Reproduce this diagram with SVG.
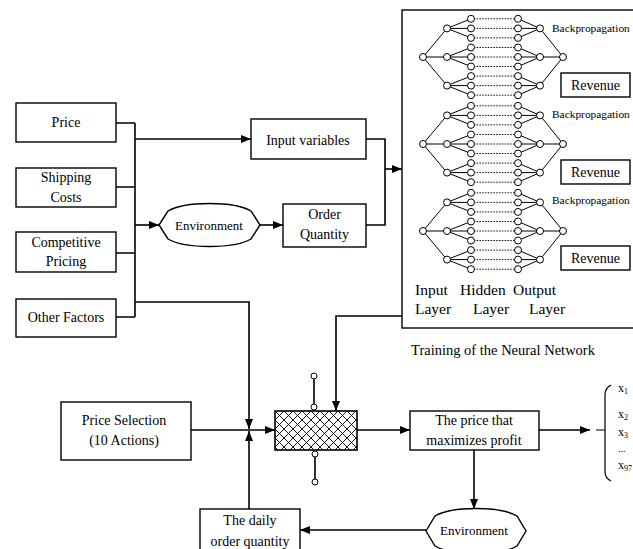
<svg xmlns="http://www.w3.org/2000/svg" xmlns:xlink="http://www.w3.org/1999/xlink" width="633" height="549" viewBox="0 0 633 549">
<style>
  .box{fill:#fff;stroke:#000;stroke-width:1.4}
  .t{font-family:"Liberation Serif","Times New Roman",serif;font-size:14px;fill:#000;text-anchor:middle}
  .tl{font-family:"Liberation Serif","Times New Roman",serif;fill:#000}
  .c{fill:none;stroke:#000;stroke-width:1.6}
  .nn{fill:none;stroke:#000;stroke-width:1}
  .dot{fill:none;stroke:#000;stroke-width:0.9;stroke-dasharray:1.6,1.2}
  .node{fill:#fff;stroke:#000;stroke-width:1}
</style>
<defs>
  <marker id="arr" viewBox="0 0 10 8" refX="10" refY="4" markerWidth="10" markerHeight="8" orient="auto" markerUnits="userSpaceOnUse">
    <path d="M0,0 L10,4 L0,8 Z" fill="#000"/>
  </marker>
  <pattern id="hatch" width="9" height="9" patternUnits="userSpaceOnUse" x="275" y="411">
    <path d="M0,0 L9,9 M9,0 L0,9" stroke="#000" stroke-width="0.9"/>
  </pattern>
  <g id="net">
    <path class="dot" d="M471,-38.2 H518 M471,-28.6 H518 M471,-19.1 H518 M471,-9.5 H518 M471,0 H518 M471,9.5 H518 M471,19.1 H518 M471,28.6 H518 M471,38.2 H518"/>
    <path class="nn" d="M423,0 L447,-28.6 M423,0 L447,0 M423,0 L447,28.6 M447,-28.6 L471,-38.2 M447,-28.6 L471,-28.6 M447,-28.6 L471,-19.1 M447,0 L471,-9.5 M447,0 L471,0 M447,0 L471,9.5 M447,28.6 L471,19.1 M447,28.6 L471,28.6 M447,28.6 L471,38.2 M518,-38.2 L540,-28.6 M518,-28.6 L540,-28.6 M518,-19.1 L540,-28.6 M518,-9.5 L540,0 M518,0 L540,0 M518,9.5 L540,0 M518,19.1 L540,28.6 M518,28.6 L540,28.6 M518,38.2 L540,28.6 M540,-28.6 L563,0 M540,0 L563,0 M540,28.6 L563,0"/>
    <circle class="node" cx="423" cy="0" r="3.5"/>
    <circle class="node" cx="447" cy="-28.6" r="3.5"/>
    <circle class="node" cx="447" cy="0" r="3.5"/>
    <circle class="node" cx="447" cy="28.6" r="3.5"/>
    <circle class="node" cx="471" cy="-38.2" r="3.5"/>
    <circle class="node" cx="471" cy="-28.6" r="3.5"/>
    <circle class="node" cx="471" cy="-19.1" r="3.5"/>
    <circle class="node" cx="471" cy="-9.5" r="3.5"/>
    <circle class="node" cx="471" cy="0" r="3.5"/>
    <circle class="node" cx="471" cy="9.5" r="3.5"/>
    <circle class="node" cx="471" cy="19.1" r="3.5"/>
    <circle class="node" cx="471" cy="28.6" r="3.5"/>
    <circle class="node" cx="471" cy="38.2" r="3.5"/>
    <circle class="node" cx="518" cy="-38.2" r="3.5"/>
    <circle class="node" cx="518" cy="-28.6" r="3.5"/>
    <circle class="node" cx="518" cy="-19.1" r="3.5"/>
    <circle class="node" cx="518" cy="-9.5" r="3.5"/>
    <circle class="node" cx="518" cy="0" r="3.5"/>
    <circle class="node" cx="518" cy="9.5" r="3.5"/>
    <circle class="node" cx="518" cy="19.1" r="3.5"/>
    <circle class="node" cx="518" cy="28.6" r="3.5"/>
    <circle class="node" cx="518" cy="38.2" r="3.5"/>
    <circle class="node" cx="540" cy="-28.6" r="3.5"/>
    <circle class="node" cx="540" cy="0" r="3.5"/>
    <circle class="node" cx="540" cy="28.6" r="3.5"/>
    <circle class="node" cx="563" cy="0" r="3.5"/>
  </g>
</defs>
<rect width="633" height="549" fill="#fff"/>

<g id="connectors">
  <path class="c" d="M116,123 H135 M116,187 H135 M116,253 H135 M116,317 H135 M135,123 V317"/>
  <path class="c" d="M135,139 H251" marker-end="url(#arr)"/>
  <path class="c" d="M135,225 H159" marker-end="url(#arr)"/>
  <path class="c" d="M260,225 H283" marker-end="url(#arr)"/>
  <path class="c" d="M366,139 H385 V225 H366"/>
  <path class="c" d="M385,169 H402" marker-end="url(#arr)"/>
  <path class="c" d="M135,302 H249 V429" marker-end="url(#arr)"/>
  <path class="c" d="M191,430 H275" marker-end="url(#arr)"/>
  <path class="c" d="M249,509 V431" marker-end="url(#arr)"/>
  <path class="c" d="M402,316 H336 V411" marker-end="url(#arr)"/>
  <path class="c" d="M357,430 H410" marker-end="url(#arr)"/>
  <path class="c" d="M539,430 H590" marker-end="url(#arr)"/>
  <path class="c" d="M474,450 V509" marker-end="url(#arr)"/>
  <path class="c" d="M426,530 H300" marker-end="url(#arr)"/>
  <path class="c" d="M597,73 C597,60 590,50 571,44" marker-end="url(#arr)"/>
  <path class="c" d="M597,160 C597,147 590,137 571,131" marker-end="url(#arr)"/>
  <path class="c" d="M597,246 C597,233 590,223 571,217" marker-end="url(#arr)"/>
</g>

<g id="price"><rect class="box" x="16" y="103" width="100" height="39"/><text class="t" x="66" y="127">Price</text></g>
<g id="shipping"><rect class="box" x="16" y="168" width="100" height="39"/><text class="t" x="66" y="182">Shipping</text><text class="t" x="66" y="202">Costs</text></g>
<g id="competitive"><rect class="box" x="16" y="232" width="100" height="40"/><text class="t" x="66" y="247">Competitive</text><text class="t" x="66" y="266">Pricing</text></g>
<g id="other"><rect class="box" x="16" y="299" width="100" height="38"/><text class="t" x="66" y="322">Other Factors</text></g>

<g id="input-variables"><rect class="box" x="251" y="119" width="115" height="40"/><text class="t" x="308" y="145">Input variables</text></g>
<g id="environment1"><path class="box" d="M159,225 L168,211 C185,201 234,201 251,211 L260,225 L251,239 C234,249 185,249 168,239 Z"/><text class="t" x="209" y="230" style="font-size:13px">Environment</text></g>
<g id="order-quantity"><rect class="box" x="283" y="204" width="83" height="43"/><text class="t" x="324.5" y="219">Order</text><text class="t" x="324.5" y="239">Quantity</text></g>

<g id="neural-network">
  <rect class="box" x="402" y="10" width="240" height="318"/>
  <use xlink:href="#net" href="#net" transform="translate(0,57)"/>
  <use xlink:href="#net" href="#net" transform="translate(0,144)"/>
  <use xlink:href="#net" href="#net" transform="translate(0,231)"/>
  <text class="tl" x="552" y="32" font-size="11.4">Backpropagation</text>
  <text class="tl" x="552" y="118" font-size="11.4">Backpropagation</text>
  <text class="tl" x="552" y="204" font-size="11.4">Backpropagation</text>
  <text class="tl" x="415" y="295" font-size="15.5">Input</text>
  <text class="tl" x="415" y="314" font-size="15.5">Layer</text>
  <text class="tl" x="460" y="295" font-size="15.5">Hidden</text>
  <text class="tl" x="473" y="314" font-size="15.5">Layer</text>
  <text class="tl" x="513" y="295" font-size="15.5">Output</text>
  <text class="tl" x="529" y="314" font-size="15.5">Layer</text>
</g>
<g id="revenue1"><rect class="box" x="561" y="73" width="69" height="24"/><text class="t" x="595.5" y="90">Revenue</text></g>
<g id="revenue2"><rect class="box" x="561" y="160" width="69" height="24"/><text class="t" x="595.5" y="177">Revenue</text></g>
<g id="revenue3"><rect class="box" x="561" y="246" width="69" height="24"/><text class="t" x="595.5" y="263">Revenue</text></g>
<text class="t" x="503" y="355" style="font-size:14.5px">Training of the Neural Network</text>

<g id="price-selection"><rect class="box" x="61" y="402" width="130" height="58"/><text class="t" x="124" y="425">Price Selection</text><text class="t" x="124" y="445">(10 Actions)</text></g>

<g id="selector">
  <path class="nn" d="M314,376 V407 M315,454 V482" style="stroke-width:1.6"/>
  <rect x="275" y="411" width="82" height="39" fill="url(#hatch)" stroke="#000" stroke-width="1.6"/>
  <circle class="node" cx="314" cy="376" r="3"/>
  <circle class="node" cx="314" cy="407" r="3"/>
  <circle class="node" cx="315" cy="454" r="3"/>
  <circle class="node" cx="315" cy="482" r="3"/>
</g>

<g id="best-price"><rect class="box" x="410" y="411" width="129" height="39"/><text class="t" x="474" y="425">The price that</text><text class="t" x="474" y="445">maximizes profit</text></g>

<g id="environment2"><path class="box" d="M426,531 L435,516 C452,506 500,506 517,516 L526,531 L517,546 C500,556 452,556 435,546 Z"/><text class="t" x="474" y="535" style="font-size:13px">Environment</text></g>

<g id="daily-order"><rect class="box" x="200" y="509" width="100" height="46"/><text class="t" x="250" y="525">The daily</text><text class="t" x="250" y="546">order quantity</text></g>

<g id="outputs">
  <path class="nn" d="M596,430 H605 M611,385 Q605,388 605,395 V472 Q605,478 611,481" style="stroke-width:1.2"/>
  <text class="tl" x="618" y="392" font-size="12">x<tspan font-size="8" dy="2">1</tspan></text>
  <text class="tl" x="618" y="418" font-size="12">x<tspan font-size="8" dy="2">2</tspan></text>
  <text class="tl" x="618" y="436" font-size="12">x<tspan font-size="8" dy="2">3</tspan></text>
  <text class="tl" x="618" y="452" font-size="10">...</text>
  <text class="tl" x="618" y="469" font-size="12">x<tspan font-size="8" dy="2">97</tspan></text>
</g>
</svg>
